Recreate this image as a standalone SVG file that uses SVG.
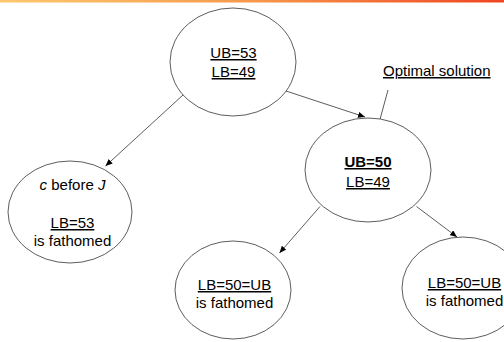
<svg xmlns="http://www.w3.org/2000/svg" width="504" height="342" viewBox="0 0 504 342">
  <style>
    .node ellipse { fill: #ffffff; stroke: #333333; stroke-width: 0.8; }
    text { font-family: "Liberation Sans", Arial, sans-serif; font-size: 15px; fill: #000000; text-anchor: middle; }
    .u { text-decoration: underline; }
    .b { font-weight: bold; }
    .edge { stroke: #333333; stroke-width: 0.8; fill: none; marker-end: url(#arrow); }
  </style>
  <defs>
    <linearGradient id="band" x1="0" y1="0" x2="1" y2="0">
      <stop offset="0" stop-color="#fcc86f"/>
      <stop offset="0.5" stop-color="#f7984c"/>
      <stop offset="1" stop-color="#ef4522"/>
    </linearGradient>
    <marker id="arrow" markerUnits="userSpaceOnUse" markerWidth="8" markerHeight="6" refX="7" refY="3" orient="auto">
      <path d="M0,0 L7,3 L0,6 Z" fill="#000000"/>
    </marker>
  </defs>

  <!-- title band -->
  <rect x="0" y="0" width="504" height="2.5" fill="url(#band)"/>

  <!-- connectors -->
  <g id="edges">
    <line class="edge" x1="183" y1="95" x2="105.5" y2="166"/>
    <line class="edge" x1="286" y1="91" x2="365" y2="117"/>
    <line class="edge" x1="320" y1="206.5" x2="279.5" y2="253"/>
    <line class="edge" x1="416.5" y1="206.5" x2="457" y2="237"/>
    <line class="edge" x1="388" y1="90" x2="373" y2="145"/>
  </g>

  <!-- root -->
  <g id="root" class="node">
    <ellipse cx="233" cy="62" rx="63" ry="54"/>
    <text x="233.5" y="58" class="u">UB=53</text>
    <text x="233.5" y="77" class="u">LB=49</text>
  </g>

  <!-- left child -->
  <g id="c-before-j" class="node">
    <ellipse cx="70" cy="212" rx="62" ry="51"/>
    <text x="72.5" y="190"><tspan font-style="italic">c</tspan> before <tspan font-style="italic">J</tspan></text>
    <text x="72.5" y="228" class="u">LB=53</text>
    <text x="72.5" y="246">is fathomed</text>
  </g>

  <!-- right child -->
  <g id="optimal" class="node">
    <ellipse cx="368" cy="170" rx="63" ry="52"/>
    <text x="368" y="167" class="u b">UB=50</text>
    <text x="368" y="187" class="u">LB=49</text>
  </g>

  <!-- grandchildren -->
  <g id="leaf-left" class="node">
    <ellipse cx="233" cy="290" rx="58" ry="49"/>
    <text x="234.5" y="290" class="u">LB=50=UB</text>
    <text x="234.5" y="308">is fathomed</text>
  </g>

  <g id="leaf-right" class="node">
    <ellipse cx="463" cy="288" rx="61" ry="51"/>
    <text x="464.5" y="288" class="u">LB=50=UB</text>
    <text x="464.5" y="306">is fathomed</text>
  </g>

  <!-- annotation -->
  <g id="label-optimal">
    <text x="383" y="76" class="u" style="text-anchor:start">Optimal solution</text>
  </g>
</svg>
